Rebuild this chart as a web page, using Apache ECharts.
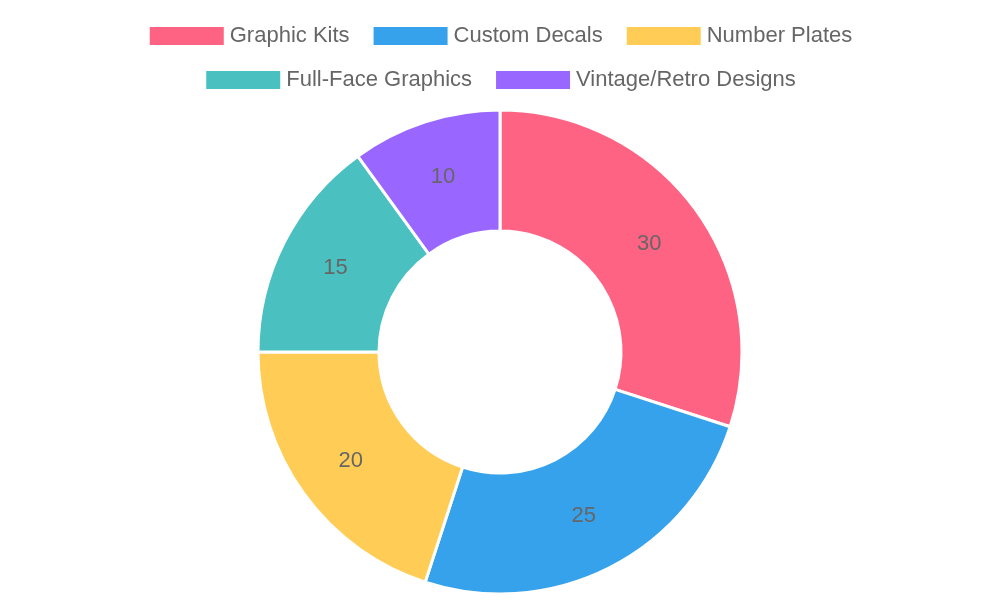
<!DOCTYPE html>
<html>
<head>
<meta charset="utf-8">
<script src="https://cdn.jsdelivr.net/npm/echarts@6/dist/echarts.min.js"></script>
<style>html,body{margin:0;padding:0;background:#fff}#chart{width:1000px;height:600px}</style>
</head>
<body>
<div id="chart"></div>
<script>
var categories = ['Graphic Kits', 'Custom Decals', 'Number Plates', 'Full-Face Graphics', 'Vintage/Retro Designs'];
var values = [30, 25, 20, 15, 10];
var colors = ['#ff6384', '#36a2eb', '#ffcd56', '#4bc0c0', '#9966ff'];

var chart = echarts.init(document.getElementById('chart'));

var legendBase = {
    itemWidth: 76,
    itemHeight: 20,
    itemGap: 22,
    icon: 'rect',
    textStyle: { color: '#666', fontSize: 22, fontFamily: 'Liberation Sans, Arial, sans-serif' }
};

chart.setOption({
    backgroundColor: '#fff',
    color: colors,
    legend: [
        Object.assign({ top: 20, left: 'center', data: categories.slice(0, 3) }, legendBase),
        Object.assign({ top: 64, left: 'center', data: categories.slice(3) }, legendBase)
    ],
    series: [{
        type: 'pie',
        center: [500, 352],
        radius: [121, 242],
        startAngle: 90,
        clockwise: true,
        itemStyle: { borderColor: '#fff', borderWidth: 3 },
        label: {
            show: true,
            position: 'inside',
            color: '#666',
            fontSize: 22,
            fontFamily: 'Liberation Sans, Arial, sans-serif',
            formatter: '{c}'
        },
        labelLine: { show: false },
        emphasis: { scale: false },
        data: categories.map(function (name, i) {
            return { name: name, value: values[i] };
        })
    }]
});
</script>
</body>
</html>
